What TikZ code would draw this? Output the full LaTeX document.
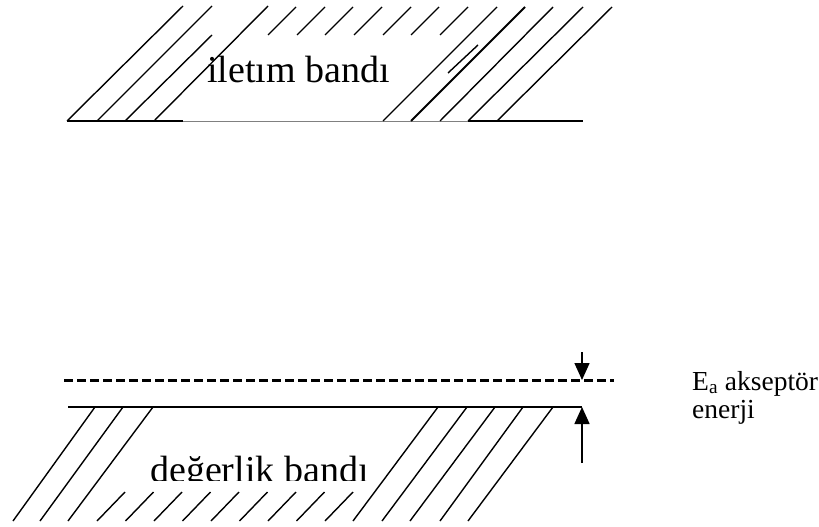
\documentclass[tikz,border=0pt]{standalone}
\usepackage{fontspec}
\setmainfont{Liberation Serif}
\usetikzlibrary{positioning,arrows.meta}

\begin{document}
\begin{tikzpicture}[
  x=1pt, y=-1pt,
  hatch/.style={line width=1.4pt},
  edge/.style={line width=1.8pt},
  bandlbl/.style={inner sep=0pt, anchor=base west, font=\fontsize{38}{40}\selectfont},
  note/.style={inner sep=0pt, anchor=base west, font=\fontsize{27.5}{30}\selectfont},
  gaparrow/.style={line width=1.5pt, -{Triangle[width=15pt,length=17pt]}},
  level/.style={line width=3pt, dash pattern=on 9pt off 4pt},
]
\useasboundingbox (0,0) rectangle (819,527);

% Conduction band
\draw[edge] (67,121) -- (183,121);
\draw[line width=1pt, gray] (183,121) -- (468,121);
\draw[edge] (468,121) -- (583,121);
\draw[hatch] (67,121) -- (183,6);
\draw[hatch] (97,121) -- (212,6);
\draw[hatch] (125,121) -- (212,35);
\draw[hatch] (154,121) -- (268,6);
\foreach \x in {268,297,325,354,383,411,440}
  \draw[hatch] (\x,35) -- (\x+28,7);
\draw[hatch] (383,121) -- (497,7);
\draw[hatch, line width=2pt] (411,121) -- (525,7);
\draw[hatch] (440,121) -- (553,7);
\draw[hatch] (468,121) -- (583,7);
\draw[hatch] (497,121) -- (612,7);
\draw[hatch] (448,73) -- (478,45);
\node[bandlbl] (cband) at (207,82) {iletım bandı};

% Acceptor level
\draw[level] (64,380) -- (614,380);

% Valence band
\draw[edge] (68,407) -- (582,407);
\draw[hatch] (95,407) -- (13,521);
\draw[hatch] (123,407) -- (40,521);
\draw[hatch] (153,407) -- (68,521);
\foreach \x in {97,125.5,154,182.5,211,239.5,268,296.5,325}
  \draw[hatch] (\x,521) -- (\x+28,492);
\draw[hatch] (438,407) -- (353,521);
\draw[hatch] (467,407) -- (382,521);
\draw[hatch] (495,407) -- (410,521);
\draw[hatch] (523,407) -- (440,521);
\draw[hatch] (553,407) -- (468,521);
\begin{scope}
  \clip (0,400) rectangle (819,480);
  \node[bandlbl] (vband) at (150,482) {değerlik bandı};
\end{scope}

% Gap arrows
\coordinate (acc) at (582,380);
\coordinate (acctail) at (582,352);
\coordinate (vtop) at (582,407);
\coordinate (vtail) at (582,463);
\draw[gaparrow] (acctail) -- (acc);
\draw[gaparrow] (vtail) -- (vtop);

% Labels
\node[note] (ea) at (692,390) {E\textsubscript{a} akseptör};
\node[note] (en) at (692,418) {enerji};

\end{tikzpicture}
\end{document}
